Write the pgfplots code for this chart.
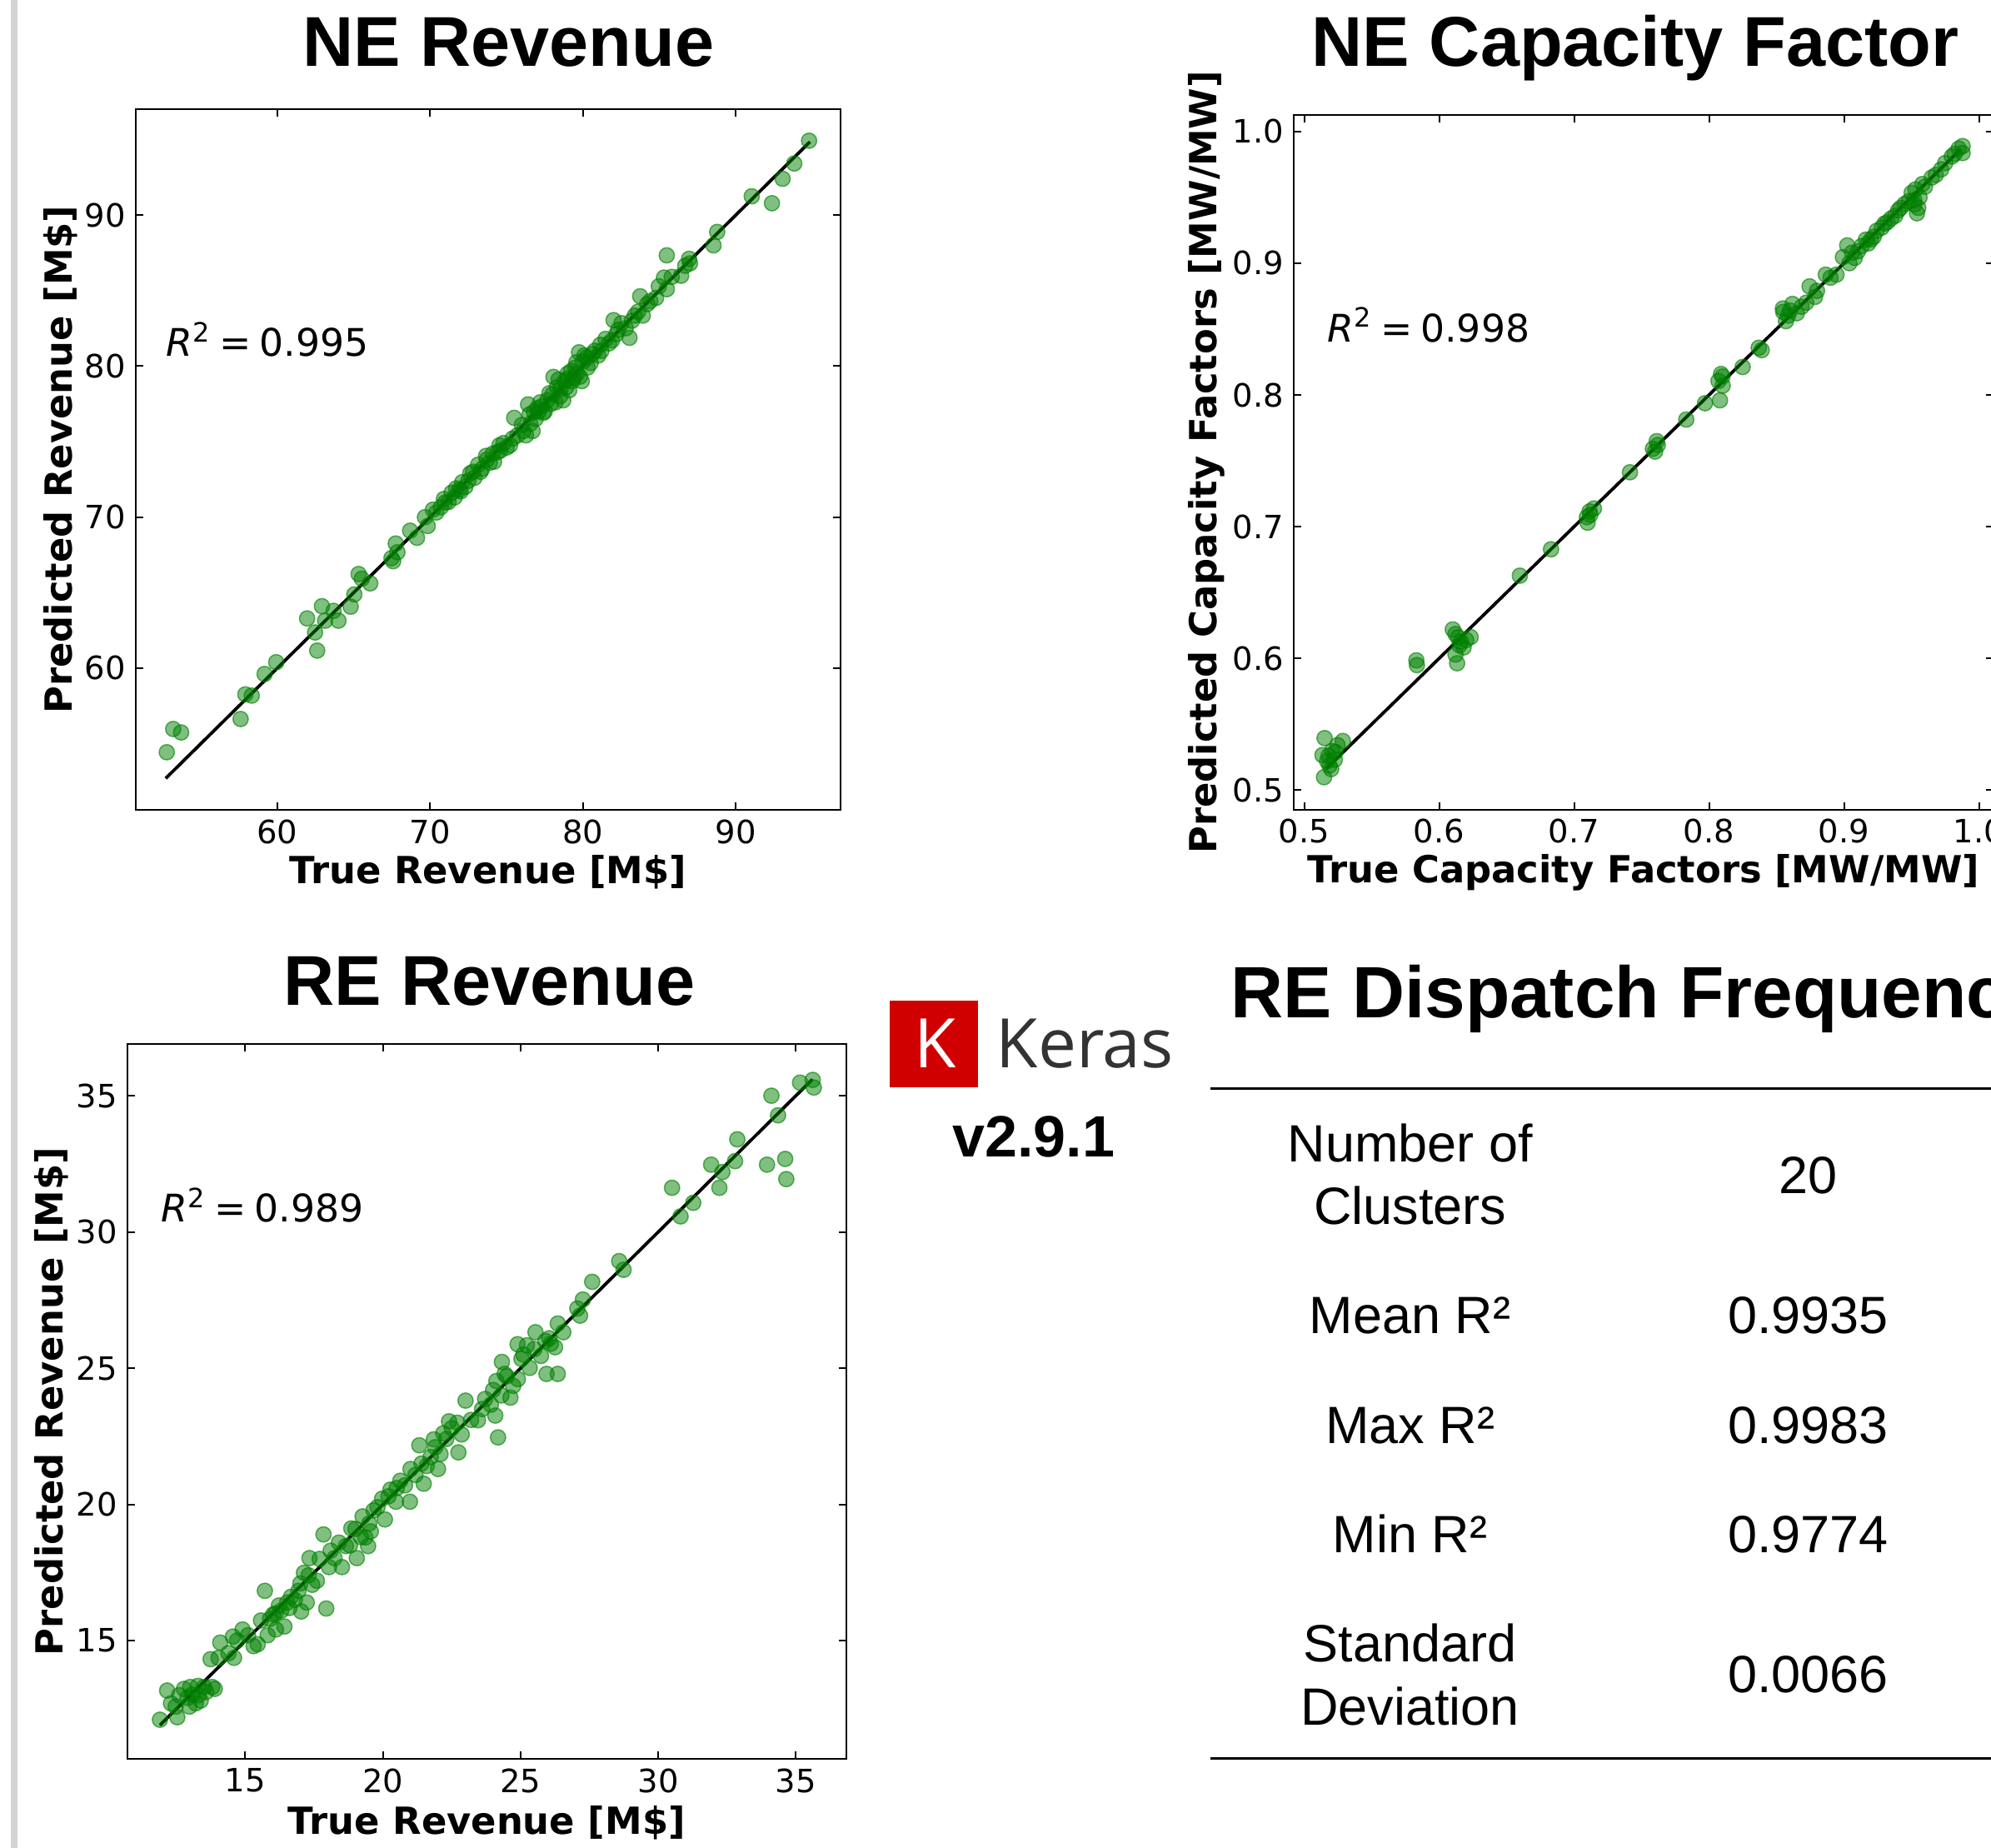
\documentclass[border=0pt]{standalone}
\usepackage{pgfplots}
\pgfplotsset{compat=1.18}
\usepackage{fontspec}
\setmainfont{Liberation Sans}
\newfontfamily\dejavu{DejaVu Sans}
\newfontfamily\opensans{Open Sans}
\definecolor{mplgreen}{RGB}{0,128,0}
\definecolor{kerasred}{RGB}{208,0,0}
\definecolor{kerasgrey}{RGB}{51,51,51}
\definecolor{bargrey}{RGB}{212,212,212}
\pgfplotsset{
  myaxis/.style={
    scale only axis,
    axis line style={line width=0.6pt, black},
    tick align=inside,
    major tick length=2.7pt,
    every tick/.style={black, line width=0.6pt},
    minor tick num=0,
    tick label style={font=\dejavu\fontsize{11.55}{13}\selectfont},
    /pgf/number format/assume math mode=true,
    label style={font=\dejavu\bfseries\fontsize{13.45}{16}\selectfont},
    anchor=south west,
  },
  scat/.style={only marks, mark=*, mark size=2.75pt,
    mark options={fill=mplgreen, draw=mplgreen, line width=0.45pt, fill opacity=0.5, draw opacity=0.6}},
  idline/.style={black, line width=1.15pt, no marks},
}
\newcommand{\rtwo}[1]{{\dejavu\fontsize{13.7}{16}\selectfont\textit{R}\textsuperscript{2}\hspace{0.22em}=\hspace{0.22em}#1}}
\begin{document}
\begin{tikzpicture}
\useasboundingbox (0,0) rectangle (717pt,665.4pt);
\clip (0,0) rectangle (717pt,665.4pt);
\fill[white] (0,0) rectangle (717pt,665.4pt);
\fill[bargrey] (3.81pt,0) rectangle (6.21pt,665.4pt);

% ---------------- NE Revenue ----------------
\begin{axis}[myaxis, at={(48.78pt,373.71pt)}, width=253.92pt, height=252.33pt,
  xmin=50.72, xmax=96.85, ymin=50.6, ymax=97.0,
  xtick={60,70,80,90}, ytick={60,70,80,90},
  xlabel={True Revenue [M\$]}, ylabel={Predicted Revenue [M\$]},
  xlabel style={at={(axis description cs:0.5,-0.1051)}, anchor=base},
  ylabel style={at={(axis description cs:-0.0905,0.5)}, anchor=base}]
\addplot[scat] coordinates {
(52.77,54.43)(53.19,55.97)(53.71,55.74)(57.6,56.63)(57.91,58.26)(58.33,58.18)(59.17,59.61)(59.93,60.39)
(61.95,63.29)(62.47,62.36)(62.61,61.16)(62.92,64.10)(63.13,63.14)(63.68,63.79)(64.0,63.14)(64.8,64.07)
(65.04,64.88)(65.32,66.23)(65.53,65.92)(66.08,65.61)(67.47,67.28)(67.75,68.25)(67.86,67.67)(67.58,67.08)
(68.69,69.10)(69.14,68.63)(69.66,69.99)(69.84,69.41)(70.18,70.49)(70.7,70.65)(70.98,70.96)(71.2,71.0)
(71.4,71.61)(71.6,71.3)(71.9,71.8)(72.1,72.31)(72.3,72.0)(72.5,72.4)(72.62,72.89)(72.9,72.6)
(73.14,73.47)(73.4,73.2)(73.66,74.05)(73.9,73.6)(74.18,73.67)(74.4,74.3)(74.53,74.75)(74.8,74.9)
(75.0,74.6)(75.22,74.75)(75.5,76.57)(75.7,75.4)(76.0,76.1)(76.27,75.41)(76.41,77.46)(76.55,76.18)
(76.79,76.96)(77.0,77.2)(77.31,77.34)(77.5,77.0)(77.66,77.73)(77.8,78.2)(78.0,78.12)(78.07,79.28)
(78.2,77.6)(78.53,78.5)(78.7,77.73)(78.8,79.0)(78.98,79.16)(79.1,78.4)(79.22,79.67)(79.4,79.2)
(79.57,80.25)(79.6,79.5)(79.74,80.91)(79.92,79.0)(80.0,80.3)(80.26,80.56)(80.3,79.9)(80.5,80.2)
(80.78,81.02)(81.0,80.7)(81.13,81.41)(81.48,81.80)(81.7,81.5)(82.0,83.04)(82.18,82.11)(82.52,82.84)
(82.8,82.5)(83.04,81.87)(83.39,83.34)(83.74,84.62)(83.91,83.34)(84.2,84.1)(84.78,84.51)(84.96,85.28)
(85.30,85.86)(85.48,87.33)(85.48,85.09)(86.42,85.98)(86.69,86.64)(86.94,87.1)(88.54,87.99)(88.78,88.88)
(91.04,91.24)(92.36,90.78)(93.06,92.4)(93.82,93.41)(94.79,94.92)
(70.4,70.3)(70.9,71.2)(71.7,71.9)(72.0,71.7)(72.8,73.0)(73.3,73.0)(73.7,73.8)(74.1,74.2)
(74.6,74.4)(75.4,75.2)(76.1,75.7)(76.5,76.8)(76.9,76.5)(77.2,77.6)(77.4,76.9)(77.9,77.5)
(78.3,78.6)(78.5,78.0)(78.9,78.6)(79.3,79.0)(79.5,79.9)(79.8,79.3)(80.1,80.7)(80.6,80.8)
(81.2,81.0)(81.9,81.7)(82.3,82.4)(83.2,83.0)(83.6,83.6)(84.4,84.3)(85.8,85.9)(87.0,86.8)
(76.7,75.7)(77.1,77.0)(78.4,79.1)(79.0,79.5)
};
\addplot[idline] coordinates {(52.7,52.7)(94.85,94.85)};
\node[anchor=base west, inner sep=0pt] at (axis cs:52.7,80.63) {\rtwo{0.995}};
\end{axis}

% ---------------- NE Capacity Factor ----------------
\begin{axis}[myaxis, at={(465.78pt,373.92pt)}, width=252.12pt, height=250.02pt,
  xmin=0.492, xmax=1.0108, ymin=0.4853, ymax=1.0124,
  xtick={0.5,0.6,0.7,0.8,0.9,1.0}, ytick={0.5,0.6,0.7,0.8,0.9,1.0},
  tick label style={/pgf/number format/fixed, /pgf/number format/fixed zerofill, /pgf/number format/precision=1},
  xlabel={True Capacity Factors [MW/MW]}, ylabel={Predicted Capacity Factors [MW/MW]},
  xlabel style={at={(axis description cs:0.5,-0.1052)}, anchor=base},
  ylabel style={at={(axis description cs:-0.1096,0.5)}, anchor=base}]
\addplot[scat] coordinates {
(0.5151,0.5395)(0.5135,0.5266)(0.5147,0.5098)(0.5187,0.5186)(0.5207,0.5297)(0.5227,0.5231)(0.5247,0.5342)
(0.5286,0.5373)(0.5170,0.5220)(0.5200,0.5160)(0.5831,0.5985)(0.5835,0.5949)(0.6101,0.6220)(0.6121,0.6185)
(0.6121,0.6029)(0.6133,0.5963)(0.6161,0.6127)(0.6181,0.6083)(0.6233,0.6162)(0.6150,0.6100)(0.6598,0.6628)
(0.6829,0.6828)(0.7095,0.7072)(0.7115,0.7116)(0.7147,0.7138)(0.7100,0.7030)(0.7414,0.7413)(0.7584,0.7591)
(0.7612,0.7649)(0.7600,0.7570)(0.7831,0.7813)(0.7970,0.7937)(0.8070,0.8106)(0.8089,0.8159)(0.8081,0.7959)
(0.8101,0.8070)(0.8249,0.8212)(0.8368,0.8358)(0.8390,0.8340)(0.8547,0.8656)(0.8586,0.8602)(0.8570,0.8560)
(0.8618,0.8691)(0.8686,0.8669)(0.8745,0.8824)(0.8785,0.8744)(0.8865,0.8913)(0.8944,0.8913)(0.8992,0.9046)
(0.9024,0.9135)(0.9040,0.9000)(0.9103,0.9090)(0.9163,0.9179)(0.9200,0.9180)(0.9242,0.9246)(0.9280,0.9270)
(0.9322,0.9312)(0.9402,0.9401)(0.9450,0.9450)(0.9501,0.9534)(0.9521,0.9446)(0.9541,0.9379)(0.9560,0.9500)
(0.9581,0.9601)(0.9650,0.9650)(0.9720,0.9712)(0.9799,0.9809)(0.9879,0.9889)(0.9879,0.9836)
(0.5180,0.5260)(0.5230,0.5290)(0.6140,0.6160)(0.6200,0.6140)(0.7120,0.7090)(0.7620,0.7620)(0.8100,0.8140)
(0.8550,0.8630)(0.8600,0.8640)(0.8650,0.8620)(0.8720,0.8700)(0.8800,0.8790)(0.8900,0.8890)(0.9060,0.9080)
(0.9080,0.9040)(0.9130,0.9130)(0.9180,0.9150)(0.9220,0.9200)(0.9300,0.9300)(0.9350,0.9340)(0.9380,0.9360)
(0.9420,0.9420)(0.9480,0.9470)(0.9520,0.9480)(0.9530,0.9560)(0.9550,0.9420)(0.9600,0.9580)(0.9680,0.9670)
(0.9750,0.9760)(0.9820,0.9830)(0.9850,0.9870)
};
\addplot[idline] coordinates {(0.516,0.516)(0.986,0.986)};
\node[anchor=base west, inner sep=0pt] at (axis cs:0.5167,0.8403) {\rtwo{0.998}};
\end{axis}

% ---------------- RE Revenue ----------------
\begin{axis}[myaxis, at={(45.81pt,32.07pt)}, width=258.96pt, height=257.34pt,
  xmin=10.71, xmax=36.83, ymin=10.66, ymax=36.89,
  xtick={15,20,25,30,35}, ytick={15,20,25,30,35},
  xlabel={True Revenue [M\$]}, ylabel={Predicted Revenue [M\$]},
  xlabel style={at={(axis description cs:0.5,-0.1055)}, anchor=base},
  ylabel style={at={(axis description cs:-0.0900,0.5)}, anchor=base}]
\addplot[scat] coordinates {
(11.9,12.1)(12.16,13.17)(12.53,12.19)(12.47,12.58)(12.77,13.23)(13.07,13.02)(12.97,12.58)(13.28,13.34)
(13.38,12.80)(13.58,13.12)(13.89,13.23)(13.74,14.32)(14.03,14.37)(14.09,14.93)(14.39,14.54)(14.55,15.15)
(14.9,15.41)(14.59,14.37)(15.45,14.87)(15.57,15.74)(15.71,16.83)(15.81,15.2)(16.01,15.96)(16.11,15.41)
(16.22,16.29)(16.42,15.52)(16.52,16.4)(16.66,16.61)(16.93,16.83)(17.03,16.07)(17.13,17.49)(17.23,16.4)
(17.33,18.03)(17.43,17.05)(17.84,18.9)(17.94,16.18)(18.04,17.7)(18.24,18.03)(18.51,17.7)(18.65,18.47)
(18.85,19.12)(19.05,18.03)(19.26,19.56)(19.36,18.79)(19.46,18.47)(19.56,19.01)(19.66,19.78)(19.97,20.21)
(20.07,19.45)(20.27,20.54)(20.47,20.1)(20.63,20.87)(20.98,20.1)(21.18,21.08)(21.32,22.17)(21.48,20.76)
(21.59,21.41)(21.73,21.74)(21.85,22.39)(22.0,21.3)(22.09,21.85)(22.19,22.61)(22.4,23.05)(22.74,21.91)
(22.86,22.57)(23.0,23.81)(23.45,23.09)(23.71,23.87)(23.92,23.66)(24.08,23.26)(24.12,24.53)(24.18,22.46)
(24.32,25.23)(24.42,24.79)(24.63,23.92)(24.73,24.35)(24.89,25.88)(25.03,25.34)(25.23,25.84)(25.33,25.01)
(25.54,26.32)(25.74,25.45)(25.94,24.79)(26.04,26.1)(26.25,25.77)(26.35,24.79)(26.35,26.64)(26.55,26.32)
(27.06,27.19)(27.16,26.93)(27.26,27.52)(27.6,28.17)(28.58,28.93)(28.74,28.61)(30.5,31.62)(30.81,30.57)
(31.27,31.07)(31.92,32.47)(32.22,31.62)(32.33,32.2)(32.79,32.6)(32.87,33.4)(33.95,32.47)(34.11,35.0)
(34.35,34.28)(34.61,32.68)(34.65,31.94)(35.15,35.48)(35.61,35.58)(35.65,35.3)
(12.3,12.7)(12.6,13.0)(12.9,12.9)(13.2,12.7)(13.5,13.3)(13.0,13.3)(13.8,13.3)(13.3,13.0)
(14.7,15.0)(15.1,15.2)(15.3,14.8)(15.9,15.8)(16.1,16.0)(16.3,16.1)(16.6,16.2)(16.8,16.5)
(17.0,17.1)(17.3,17.4)(17.6,17.2)(17.7,18.0)(18.1,18.3)(18.4,18.6)(18.8,18.5)(19.0,19.1)
(19.2,18.8)(19.5,19.3)(19.8,19.9)(20.2,20.3)(20.5,20.6)(20.8,20.7)(21.0,21.3)(21.4,21.5)
(21.9,22.1)(22.3,22.4)(22.5,22.8)(22.7,23.0)(23.2,23.1)(23.6,23.5)(24.0,24.2)(24.3,24.0)
(24.5,24.7)(24.9,24.6)(25.1,25.5)(25.5,25.7)(25.9,26.0)(26.1,25.9)
};
\addplot[idline] coordinates {(11.9,11.9)(35.6,35.6)};
\node[anchor=base west, inner sep=0pt] at (axis cs:11.935,30.37) {\rtwo{0.989}};
\end{axis}

% ---------------- Titles ----------------
\begin{scope}[every node/.style={inner sep=0pt, font=\bfseries\fontsize{25.4}{30}\selectfont}]
\node[anchor=base] at (183.18pt,641.61pt) {NE Revenue};
\node[anchor=base] at (588.9pt,641.61pt) {NE Capacity Factor};
\node[anchor=base] at (176.28pt,303.3pt) {RE Revenue};
\node[anchor=base west, font=\bfseries\fontsize{26.2}{30}\selectfont] at (443.1pt,298.95pt) {RE Dispatch Frequency};
\end{scope}

% ---------------- Keras logo ----------------
\fill[kerasred] (320.49pt,273.9pt) rectangle (352.29pt,305.19pt);
\node[anchor=base, inner sep=0pt, text=white, font=\opensans\fontsize{24.6}{28}\selectfont] at (336.9pt,280.8pt) {K};
\node[anchor=base west, inner sep=0pt, text=kerasgrey, font=\opensans\fontsize{24.6}{28}\selectfont] at (358.5pt,280.8pt) {Keras};
\node[anchor=base, inner sep=0pt, font=\bfseries\fontsize{21}{25}\selectfont] at (372.24pt,248.91pt) {v2.9.1};

% ---------------- Table ----------------
\draw[line width=0.75pt] (435.9pt,273.39pt) -- (725pt,273.39pt);
\draw[line width=0.75pt] (435.9pt,32.25pt) -- (725pt,32.25pt);
\begin{scope}[every node/.style={inner sep=0pt, anchor=base, font=\fontsize{18.9}{22}\selectfont}]
\node at (507.78pt,246.9pt) {Number of};
\node at (507.78pt,224.4pt) {Clusters};
\node at (651.12pt,235.59pt) {20};
\node at (507.78pt,185.1pt) {Mean R²};
\node at (651.12pt,185.1pt) {0.9935};
\node at (507.78pt,145.68pt) {Max R²};
\node at (651.12pt,145.68pt) {0.9983};
\node at (507.78pt,106.2pt) {Min R²};
\node at (651.12pt,106.2pt) {0.9774};
\node at (507.78pt,66.99pt) {Standard};
\node at (507.78pt,44.1pt) {Deviation};
\node at (651.12pt,55.8pt) {0.0066};
\end{scope}
\end{tikzpicture}
\end{document}
